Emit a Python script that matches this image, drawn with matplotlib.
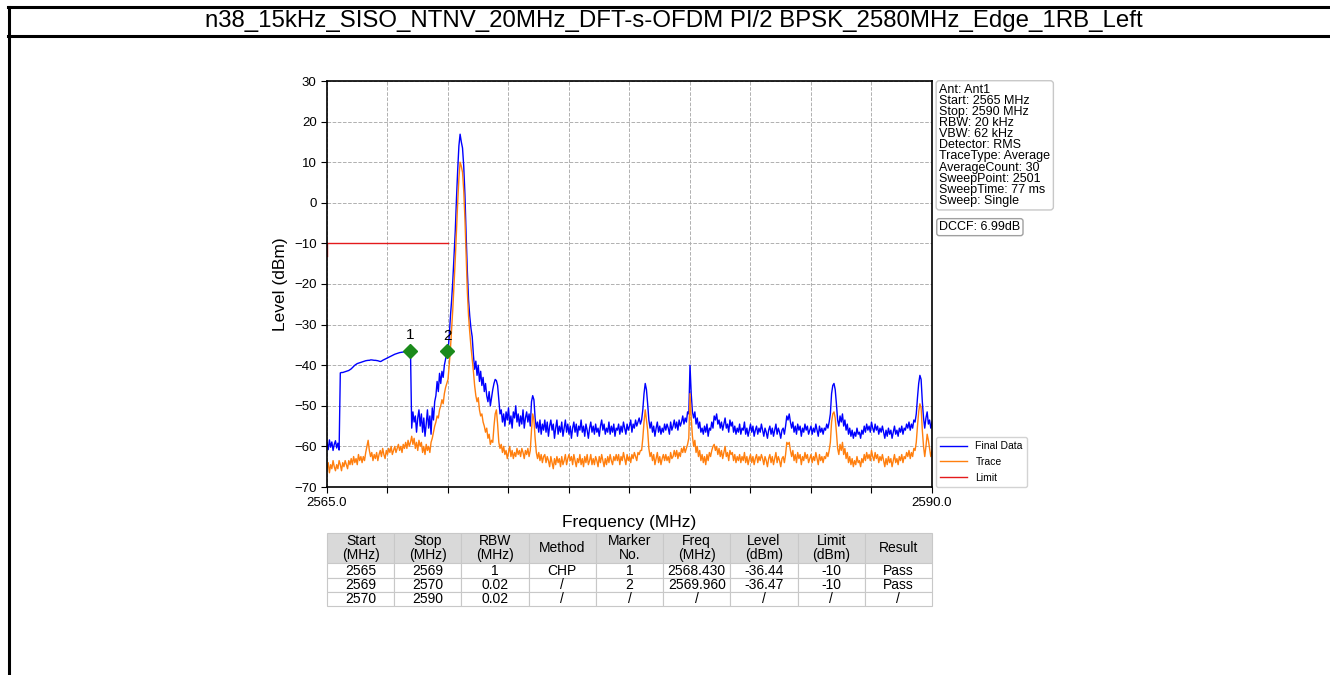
import numpy as np
import matplotlib
matplotlib.use('Agg')
import matplotlib.pyplot as plt
from matplotlib.lines import Line2D

plt.rcParams['font.family'] = ['Liberation Sans', 'DejaVu Sans']

title = 'n38_15kHz_SISO_NTNV_20MHz_DFT-s-OFDM PI/2 BPSK_2580MHz_Edge_1RB_Left'

# sweep: 2565 .. 2590 MHz, one value every 0.05 MHz (20 per row = 1 MHz)
f_start = 2565.0
f_stop = 2590.0

final_data = [
    -59.0, -60.8, -58.4, -60.2, -58.9, -61.0, -59.5, -58.6, -60.4, -59.2, -60.9, -41.9, -41.8, -41.8, -41.7, -41.6, -41.5, -41.4, -41.3, -41.1,
    -40.9, -40.6, -40.3, -40.0, -39.8, -39.6, -39.5, -39.4, -39.3, -39.2, -39.1, -39.0, -38.9, -38.85, -38.8, -38.8, -38.7, -38.7, -38.75, -38.8,
    -38.8, -38.85, -38.9, -39.0, -39.1, -39.0, -38.8, -38.65, -38.5, -38.35, -38.2, -38.05, -37.9, -37.75, -37.6, -37.45, -37.3, -37.2, -37.1, -37.0,
    -36.9, -36.85, -36.8, -36.75, -36.7, -36.65, -36.6, -36.55, -36.5, -36.44, -55.5, -51.5, -54.0, -52.5, -56.5, -53.0, -51.0, -55.0, -52.0, -56.5,
    -53.0, -57.5, -54.5, -51.0, -55.5, -52.5, -57.0, -50.5, -53.5, -49.0, -47.5, -44.0, -46.5, -42.0, -44.5, -41.5, -43.0, -40.0, -38.5, -37.0,
    -36.5, -33.0, -28.0, -24.0, -19.0, -13.0, -7.0, 1.0, 8.0, 14.0, 16.9, 15.0, 13.5, 9.0, 2.0, -8.0, -17.0, -24.0, -28.0, -31.0,
    -33.0, -37.5, -41.0, -39.0, -42.5, -40.0, -44.0, -41.5, -45.0, -43.0, -46.5, -44.5, -47.5, -49.0, -46.5, -50.0, -48.0, -46.0, -44.5, -43.5,
    -43.8, -45.0, -48.5, -52.0, -51.0, -54.0, -52.0, -55.0, -51.5, -53.5, -50.5, -54.5, -52.5, -55.5, -51.5, -53.0, -50.0, -54.0, -52.0, -55.0,
    -52.5, -54.5, -51.0, -55.5, -53.0, -51.5, -54.0, -52.0, -55.0, -49.0, -47.5, -48.5, -53.0, -55.5, -54.0, -56.5, -53.5, -57.0, -54.5, -56.0,
    -53.5, -56.5, -54.0, -57.5, -55.0, -53.5, -56.0, -54.5, -58.0, -55.5, -53.5, -57.0, -55.0, -56.5, -54.0, -57.5, -55.5, -53.5, -56.5, -54.5,
    -57.0, -55.0, -58.0, -55.5, -54.0, -56.5, -54.5, -57.5, -55.0, -56.0, -53.5, -56.5, -55.0, -57.5, -54.5, -56.0, -58.0, -55.5, -54.0, -56.5,
    -55.0, -57.0, -54.5, -56.5, -55.5, -57.5, -55.0, -53.5, -56.0, -54.5, -57.0, -55.5, -56.5, -54.0, -57.0, -55.0, -56.5, -54.5, -57.5, -55.5,
    -56.0, -54.5, -57.0, -55.0, -56.5, -54.0, -55.5, -57.0, -54.5, -56.0, -55.0, -53.5, -56.5, -54.5, -55.5, -53.5, -55.0, -54.0, -53.0, -54.5,
    -53.5, -51.0, -47.0, -44.5, -46.0, -49.5, -53.5, -55.5, -54.0, -56.5, -55.0, -57.5, -55.5, -54.0, -56.5, -55.0, -57.0, -55.5, -56.5, -54.5,
    -56.0, -54.5, -55.5, -57.0, -54.0, -56.0, -55.0, -53.5, -55.5, -54.0, -56.0, -53.5, -55.0, -54.0, -52.5, -54.5, -53.0, -54.0, -51.5, -52.0,
    -40.0, -47.0, -51.5, -53.0, -51.5, -54.5, -53.0, -55.5, -54.0, -56.5, -55.5, -57.0, -55.0, -56.5, -54.5, -57.5, -55.5, -56.0, -54.0, -55.5,
    -52.5, -53.5, -52.0, -54.5, -53.5, -55.5, -54.0, -56.0, -54.5, -53.0, -55.5, -54.5, -56.5, -53.5, -55.0, -54.0, -56.5, -55.0, -57.0, -55.5,
    -56.5, -54.5, -57.0, -55.5, -56.0, -54.0, -57.0, -55.5, -57.5, -56.0, -54.5, -56.5, -55.0, -57.5, -56.0, -55.0, -57.0, -55.5, -56.5, -54.5,
    -56.0, -57.5, -55.5, -56.5, -58.0, -56.0, -55.0, -57.0, -55.5, -57.5, -56.0, -54.5, -57.0, -55.5, -56.5, -58.0, -56.0, -55.5, -57.0, -55.0,
    -52.5, -53.5, -52.0, -54.0, -55.5, -54.0, -56.5, -55.0, -57.0, -54.5, -56.0, -55.0, -57.5, -55.5, -56.5, -54.5, -56.0, -55.0, -57.0, -56.0,
    -55.0, -57.0, -55.5, -56.5, -54.5, -56.0, -57.5, -55.0, -56.5, -55.5, -57.0, -55.5, -56.0, -54.5, -55.5, -54.0, -52.0, -47.0, -45.0, -44.5,
    -46.0, -49.5, -53.5, -55.0, -52.5, -54.0, -52.0, -55.0, -53.5, -56.0, -54.5, -57.0, -55.5, -57.5, -56.0, -58.0, -56.5, -57.5, -55.5, -57.0,
    -56.5, -58.0, -56.0, -57.0, -55.0, -56.5, -54.5, -56.0, -55.0, -56.5, -54.0, -55.5, -56.5, -54.5, -56.0, -55.0, -57.0, -55.5, -56.5, -55.0,
    -56.5, -58.0, -56.0, -57.5, -55.5, -57.0, -56.0, -58.0, -56.5, -55.0, -57.0, -56.0, -57.5, -55.5, -56.5, -55.0, -57.0, -55.5, -56.0, -54.5,
    -55.5, -54.0, -56.0, -54.5, -55.5, -53.5, -54.0, -52.0, -48.0, -44.5, -42.5, -43.5, -49.0, -53.0, -55.5, -53.0, -51.5, -54.5, -53.5, -55.5,
    -54.0,
]

trace = [
    -65.5, -64.0, -66.5, -64.5, -65.5, -63.5, -65.0, -66.0, -64.5, -65.5, -63.5, -64.5, -66.0, -64.0, -65.0, -63.5, -64.5, -65.5, -63.5, -64.5,
    -63.0, -64.5, -62.5, -64.0, -63.0, -64.5, -62.0, -63.5, -62.5, -64.0, -62.5, -63.5, -61.5, -60.0, -58.5, -61.0, -62.5, -61.5, -63.5, -62.0,
    -63.0, -61.5, -63.5, -62.0, -61.0, -62.5, -60.5, -62.0, -63.0, -61.0, -62.0, -60.5, -61.5, -60.0, -62.0, -61.0, -60.0, -61.5, -60.5, -59.5,
    -61.0, -60.0, -61.5, -59.5, -60.5, -59.0, -60.5, -58.5, -60.0, -59.0, -57.5, -59.5, -58.0, -60.5, -59.0, -61.0, -58.5, -60.0, -59.0, -61.5,
    -60.0, -62.0, -59.5, -61.0, -60.0, -61.5, -59.0, -58.0, -56.5, -55.0, -54.0, -52.5, -53.0, -51.0, -50.0, -48.5, -49.5, -47.0, -45.5, -44.5,
    -43.5, -40.0, -36.0, -31.0, -26.0, -20.0, -14.0, -7.0, 0.0, 6.0, 10.0, 9.0, 7.5, 3.0, -4.0, -13.0, -22.0, -28.0, -32.0, -35.5,
    -38.5, -41.5, -45.0, -47.5, -49.0, -48.0, -51.0, -52.5, -52.0, -54.0, -55.0, -56.5, -55.5, -58.0, -57.0, -59.5, -58.5, -59.0, -55.0, -52.0,
    -51.0, -54.5, -59.0, -60.5, -59.5, -61.5, -60.0, -62.0, -61.0, -63.0, -61.5, -60.0, -62.5, -61.0, -63.0, -61.5, -62.5, -60.5, -62.0, -61.0,
    -62.5, -60.5, -61.5, -63.0, -61.0, -62.0, -60.5, -62.5, -61.0, -56.0, -52.0, -53.5, -58.0, -61.5, -63.0, -61.5, -63.5, -62.0, -64.0, -62.5,
    -62.0, -64.0, -62.5, -63.5, -65.0, -62.5, -64.0, -65.5, -63.0, -64.5, -62.5, -64.0, -63.0, -65.0, -62.5, -64.5, -63.5, -62.0, -64.5, -63.0,
    -62.0, -63.5, -62.5, -64.5, -62.0, -63.5, -65.0, -63.0, -64.0, -62.0, -64.5, -63.0, -65.0, -62.5, -64.0, -62.0, -64.5, -63.5, -62.0, -64.5,
    -63.0, -64.5, -62.5, -63.5, -65.0, -62.5, -64.0, -62.0, -63.5, -65.0, -63.0, -64.5, -62.5, -64.0, -62.0, -63.5, -64.5, -62.5, -63.5, -62.0,
    -63.5, -62.0, -64.5, -62.5, -63.5, -61.5, -63.0, -64.5, -62.0, -63.5, -62.5, -64.0, -62.0, -63.0, -61.5, -62.5, -63.5, -61.5, -62.0, -61.0,
    -61.0, -58.0, -54.0, -51.0, -53.5, -56.0, -60.5, -62.5, -61.5, -63.5, -62.0, -64.5, -63.0, -61.5, -64.0, -62.5, -64.5, -63.0, -62.0, -63.5,
    -62.0, -63.5, -62.5, -64.0, -61.5, -63.0, -62.5, -61.0, -62.5, -61.0, -63.0, -61.5, -62.5, -60.5, -61.5, -60.0, -61.5, -60.5, -59.5, -58.0,
    -47.0, -53.0, -57.5, -60.0, -58.5, -61.5, -60.0, -62.5, -61.0, -63.5, -62.0, -64.0, -62.5, -64.5, -62.0, -63.5, -61.5, -62.5, -61.0, -60.0,
    -59.5, -61.0, -60.0, -62.0, -60.5, -62.5, -61.0, -63.0, -61.5, -60.0, -62.5, -61.5, -63.5, -61.0, -62.0, -61.5, -63.5, -62.0, -64.0, -62.5,
    -63.5, -62.0, -64.0, -62.5, -63.5, -61.5, -64.0, -62.5, -64.5, -63.0, -62.0, -64.0, -62.5, -64.5, -63.0, -62.0, -64.0, -62.5, -63.5, -62.0,
    -63.0, -64.5, -62.5, -63.5, -65.0, -63.0, -62.0, -64.0, -62.5, -64.5, -63.0, -61.5, -64.0, -62.5, -63.5, -65.0, -63.0, -62.5, -64.0, -62.0,
    -59.0, -59.5, -59.0, -61.0, -62.5, -61.0, -63.5, -62.0, -64.0, -61.5, -63.0, -62.0, -64.5, -62.5, -63.5, -61.5, -63.0, -62.0, -64.0, -63.0,
    -62.0, -64.0, -62.5, -63.5, -61.5, -63.0, -64.5, -62.0, -63.5, -62.5, -64.0, -62.5, -63.0, -61.5, -62.5, -61.0, -59.0, -54.0, -52.0, -51.5,
    -53.0, -56.5, -60.5, -62.0, -59.5, -61.0, -59.0, -62.0, -60.5, -63.0, -61.5, -64.0, -62.5, -64.5, -63.0, -65.0, -63.5, -64.5, -62.5, -64.0,
    -63.5, -65.0, -63.0, -64.0, -62.0, -63.5, -61.5, -63.0, -62.0, -63.5, -61.0, -62.5, -63.5, -61.5, -63.0, -62.0, -64.0, -62.5, -63.5, -62.0,
    -63.5, -65.0, -63.0, -64.5, -62.5, -64.0, -63.0, -65.0, -63.5, -62.0, -64.0, -63.0, -64.5, -62.5, -63.5, -62.0, -64.0, -62.5, -63.0, -61.5,
    -62.5, -61.0, -63.0, -61.5, -62.5, -60.5, -61.0, -59.0, -55.0, -51.5, -49.5, -50.5, -56.0, -60.0, -62.5, -60.0, -57.0, -58.5, -60.5, -62.5,
    -61.0,
]

limit_freq = [2565.0, 2565.0, 2570.0]
limit_level = [-13.0, -10.0, -10.0]

marker_no = ['1', '2']
marker_freq = [2568.430, 2569.960]
marker_level = [-36.44, -36.47]

info_lines = ['Ant: Ant1', 'Start: 2565 MHz', 'Stop: 2590 MHz', 'RBW: 20 kHz',
              'VBW: 62 kHz', 'Detector: RMS', 'TraceType: Average',
              'AverageCount: 30', 'SweepPoint: 2501', 'SweepTime: 77 ms',
              'Sweep: Single']
dccf_text = 'DCCF: 6.99dB'

col_labels = ['Start\n(MHz)', 'Stop\n(MHz)', 'RBW\n(MHz)', 'Method', 'Marker\nNo.',
              'Freq\n(MHz)', 'Level\n(dBm)', 'Limit\n(dBm)', 'Result']
rows = [
    ['2565', '2569', '1', 'CHP', '1', '2568.430', '-36.44', '-10', 'Pass'],
    ['2569', '2570', '0.02', '/', '2', '2569.960', '-36.47', '-10', 'Pass'],
    ['2570', '2590', '0.02', '/', '/', '/', '/', '/', '/'],
]

freq = np.linspace(f_start, f_stop, len(final_data))

fig = plt.figure(figsize=(13.3, 6.75), dpi=100)

# page frame and title strip
for xs, ys in [([8 / 1330, 1.0], [1 - 7 / 675] * 2),
               ([8 / 1330, 1.0], [1 - 36 / 675] * 2),
               ([8.5 / 1330] * 2, [1 - 7 / 675, 0.0])]:
    fig.add_artist(Line2D(xs, ys, color='black', lw=2.2, transform=fig.transFigure))
fig.text(674 / 1330, 1 - 21 / 675, title, ha='center', va='center', fontsize=17.3)

ax = fig.add_axes([327 / 1330, 1 - 487 / 675, 605 / 1330, 406 / 675])
ax.plot(freq, final_data, color='#0000ff', lw=1.0, label='Final Data')
ax.plot(freq, trace, color='#ff7f0e', lw=1.0, label='Trace')
ax.plot(limit_freq, limit_level, color='#e41a1c', lw=1.0, label='Limit')

ax.plot(marker_freq, marker_level, 'D', color='#1b8a1b', ms=7.5, zorder=5)
for no, mf, ml in zip(marker_no, marker_freq, marker_level):
    ax.annotate(no, (mf, ml), xytext=(0, 6), textcoords='offset points',
                ha='center', va='bottom', fontsize=11)

ax.set_xlim(f_start, f_stop)
ax.set_ylim(-70, 30)
ax.set_yticks(np.arange(-70, 31, 10))
xt = np.arange(f_start, f_stop + 0.1, 2.5)
ax.set_xticks(xt)
ax.set_xticklabels(['%.1f' % v if v in (f_start, f_stop) else '' for v in xt])
ax.tick_params(labelsize=9.5, length=4)
ax.grid(True, color='#b0b0b0', ls='--', lw=0.7)
for s in ax.spines.values():
    s.set_linewidth(1.2)

ax.set_xlabel('Frequency (MHz)', fontsize=12.5, labelpad=4)
ax.set_ylabel('Level (dBm)', fontsize=12.5, labelpad=4)

ax.text(1.012, 0.993, '\n'.join(info_lines), transform=ax.transAxes, ha='left', va='top',
        fontsize=9, linespacing=0.9,
        bbox=dict(boxstyle='round,pad=0.25', fc='white', ec='#c8c8c8', lw=1))
ax.text(1.012, 0.64, dccf_text, transform=ax.transAxes, ha='left', va='center',
        fontsize=9, bbox=dict(boxstyle='round,pad=0.2', fc='white', ec='#a0a0a0', lw=1))

leg = ax.legend(loc='lower left', bbox_to_anchor=(1.003, -0.005), fontsize=7.5,
                handlelength=2.6, borderaxespad=0.2, labelspacing=0.55)
leg.get_frame().set_edgecolor('#c8c8c8')

# result table under the plot
tax = fig.add_axes([327 / 1330, 1 - 606 / 675, 605 / 1330, 73 / 675])
tax.axis('off')
tbl = tax.table(cellText=rows, colLabels=col_labels, cellLoc='center', bbox=[0, 0, 1, 1])
tbl.auto_set_font_size(False)
tbl.set_fontsize(10)
for (r, c), cell in tbl.get_celld().items():
    cell.set_edgecolor('#c8c8c8')
    cell.set_linewidth(0.8)
    cell.set_height(30 if r == 0 else 14)
    cell.PAD = 0.02
    if r == 0:
        cell.set_facecolor('#d9d9d9')
        cell.get_text().set_linespacing(1.0)

fig.savefig('out.png', dpi=100)
